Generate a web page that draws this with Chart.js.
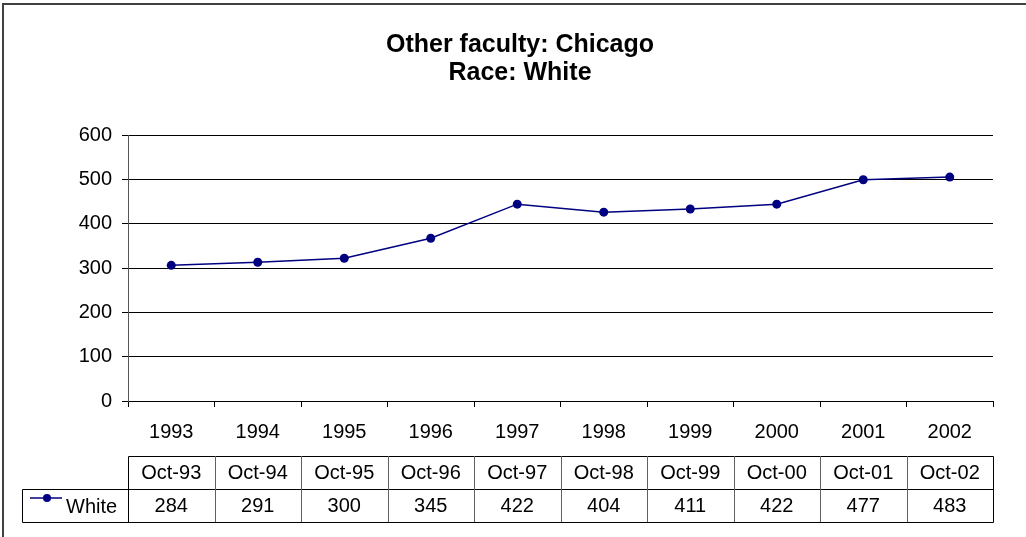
<!DOCTYPE html>
<html>
<head>
<meta charset="utf-8">
<script src="https://cdn.jsdelivr.net/npm/chart.js@4/dist/chart.umd.min.js"></script>
<style>
  body { margin: 0; background: #fff; }
  canvas { display: block; }
</style>
</head>
<body>
<canvas id="raceChart" width="1026" height="537"></canvas>
<script>
//Chart data
const titleLines = ['Other faculty: Chicago', 'Race: White'];
const years = ['1993', '1994', '1995', '1996', '1997', '1998', '1999', '2000', '2001', '2002'];
const months = ['Oct-93', 'Oct-94', 'Oct-95', 'Oct-96', 'Oct-97', 'Oct-98', 'Oct-99', 'Oct-00', 'Oct-01', 'Oct-02'];
const seriesName = 'White';
//Plotted points (as drawn)
const whiteValues = [306, 313, 322, 367, 444, 426, 433, 444, 499, 505];
//Values printed in the data table
const tableValues = ['284', '291', '300', '345', '422', '404', '411', '422', '477', '483'];
const yTicks = [0, 100, 200, 300, 400, 500, 600];

const FONT = "'Liberation Sans', Arial, sans-serif";
const LINE_COLOR = '#000080';

//Outer border + data table under the x axis
const tablePlugin = {
    id: 'dataTable',
    afterDraw(chart) {
        const ctx = chart.ctx;
        const x = chart.scales.x;
        const area = chart.chartArea;
        const colW = x.width / years.length;
        const headTop = area.bottom + 55;
        const rowMid = headTop + 33;
        const rowBot = rowMid + 33;
        const legLeft = 22;

        ctx.save();
        //chart area border (left and top visible)
        ctx.strokeStyle = '#404040';
        ctx.lineWidth = 2;
        ctx.beginPath();
        ctx.moveTo(3, 537);
        ctx.lineTo(3, 4);
        ctx.lineTo(1026, 4);
        ctx.stroke();

        ctx.lineWidth = 1;
        ctx.strokeStyle = '#000';
        //outer table lines
        ctx.beginPath();
        ctx.moveTo(area.left + 0.5, headTop + 0.5);
        ctx.lineTo(area.right + 0.5, headTop + 0.5);
        ctx.lineTo(area.right + 0.5, rowBot + 0.5);
        ctx.lineTo(legLeft + 0.5, rowBot + 0.5);
        ctx.lineTo(legLeft + 0.5, rowMid + 0.5);
        ctx.lineTo(area.right + 0.5, rowMid + 0.5);
        ctx.moveTo(area.left + 0.5, headTop + 0.5);
        ctx.lineTo(area.left + 0.5, rowBot + 0.5);
        ctx.stroke();

        //inner column lines
        ctx.strokeStyle = '#606060';
        ctx.beginPath();
        for (let i = 1; i < years.length; i++) {
            const cx = Math.round(x.getPixelForValue(i) - colW / 2) + 0.5;
            ctx.moveTo(cx, headTop);
            ctx.lineTo(cx, rowBot);
        }
        ctx.stroke();

        //cell text
        ctx.fillStyle = '#000';
        ctx.font = '20px ' + FONT;
        ctx.textAlign = 'center';
        ctx.textBaseline = 'middle';
        months.forEach(function(m, i) {
            const cx = x.getPixelForValue(i);
            ctx.fillText(m, cx, (headTop + rowMid) / 2 + 1);
            ctx.fillText(tableValues[i], cx, (rowMid + rowBot) / 2 + 1);
        });

        //legend key
        const ky = rowMid + 9;
        ctx.strokeStyle = LINE_COLOR;
        ctx.lineWidth = 1.5;
        ctx.beginPath();
        ctx.moveTo(30, ky);
        ctx.lineTo(62, ky);
        ctx.stroke();
        ctx.fillStyle = LINE_COLOR;
        ctx.beginPath();
        ctx.arc(47, ky, 4, 0, Math.PI * 2);
        ctx.fill();
        ctx.fillStyle = '#000';
        ctx.textAlign = 'left';
        ctx.fillText(seriesName, 66, (rowMid + rowBot) / 2 + 2);
        ctx.restore();
    }
};

function renderChart() {
    const ctx = document.getElementById('raceChart').getContext('2d');
    const data = {
        labels: years,
        datasets: [{
            label: seriesName,
            data: whiteValues,
            borderColor: LINE_COLOR,
            backgroundColor: LINE_COLOR,
            borderWidth: 1.5,
            pointRadius: 4.5,
            pointBackgroundColor: LINE_COLOR,
            pointBorderWidth: 0,
            tension: 0
        }]
    };

    const options = {
        responsive: false,
        animation: false,
        devicePixelRatio: 1,
        layout: {
            padding: { left: 47, right: 33, top: 0, bottom: 0 }
        },
        scales: {
            x: {
                type: 'category',
                offset: true,
                grid: {
                    display: true,
                    drawOnChartArea: false,
                    drawTicks: true,
                    tickLength: 6,
                    color: '#000',
                    offset: true
                },
                border: { display: true, color: '#000' },
                ticks: {
                    color: '#000',
                    font: { family: FONT, size: 20 },
                    padding: 13,
                    maxRotation: 0,
                    autoSkip: false
                },
                afterFit: function(scale) { scale.height = 136; }
            },
            y: {
                min: 0,
                max: 600,
                afterBuildTicks: function(scale) {
                    scale.ticks = yTicks.map(v => ({ value: v }));
                },
                grid: {
                    color: '#000',
                    lineWidth: 1,
                    tickLength: 6
                },
                border: { display: true, color: '#555' },
                ticks: {
                    color: '#000',
                    font: { family: FONT, size: 20 },
                    padding: 10
                },
                afterFit: function(scale) { scale.width = 81; }
            }
        },
        plugins: {
            legend: { display: false },
            tooltip: { enabled: false },
            title: {
                display: true,
                text: titleLines,
                color: '#000',
                font: { family: FONT, size: 25, weight: 'bold', lineHeight: 1.12 },
                padding: { top: 31, bottom: 48 }
            }
        }
    };

    new Chart(ctx, {
        type: 'line',
        data: data,
        options: options,
        plugins: [tablePlugin]
    });
}

document.addEventListener('DOMContentLoaded', renderChart);
</script>
</body>
</html>
